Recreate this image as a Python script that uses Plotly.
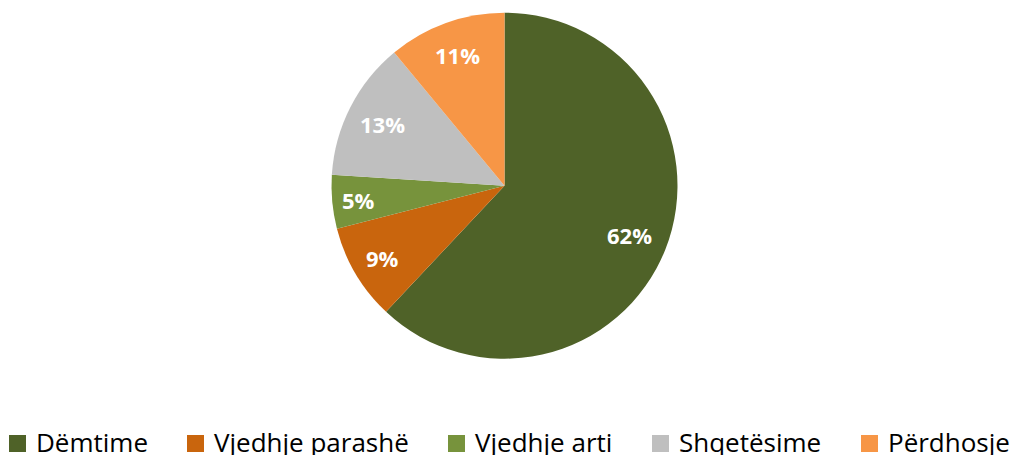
import math
import plotly.graph_objects as go

# ---- data ----
categories = ["Dëmtime", "Vjedhje parashë", "Vjedhje arti", "Shqetësime", "Përdhosje"]
values = [62, 9, 5, 13, 11]
colors = ["#4F6228", "#C9650D", "#77933C", "#BFBFBF", "#F79646"]

# ---- layout constants (pixels) ----
W, H = 1011, 455
CX, CY, R = 504.5, 185.7, 173.0
LABEL_FRAC = [0.78, 0.82, 0.85, 0.79, 0.80]
FONT = "Open Sans, Noto Sans, DejaVu Sans, sans-serif"

legend_square_x = [9, 187, 448, 652, 861]
SQ = 17
legend_sq_top = 435
legend_text_mid = 442


def px_x(x):
    return x / W


def px_y(y):
    return 1 - y / H


fig = go.Figure()
fig.add_trace(go.Pie(
    labels=categories,
    values=values,
    sort=False,
    direction="clockwise",
    rotation=0,
    marker=dict(colors=colors, line=dict(width=0)),
    textinfo="none",
    hoverinfo="label+percent",
    showlegend=False,
    domain=dict(x=[px_x(CX - R), px_x(CX + R)], y=[px_y(CY + R), px_y(CY - R)]),
))

annotations = []
shapes = []
total = sum(values)
cum = 0
for cat, v, frac in zip(categories, values, LABEL_FRAC):
    mid = (cum + v / 2) / total * 2 * math.pi
    cum += v
    x = CX + frac * R * math.sin(mid)
    y = CY - frac * R * math.cos(mid)
    annotations.append(dict(
        x=px_x(x), y=px_y(y), xref="paper", yref="paper",
        text=f"<b>{round(v / total * 100)}%</b>", showarrow=False,
        font=dict(family=FONT, size=22, color="white"),
        xanchor="center", yanchor="middle",
    ))

for cat, c, sx in zip(categories, colors, legend_square_x):
    shapes.append(dict(
        type="rect", xref="paper", yref="paper",
        x0=px_x(sx), x1=px_x(sx + SQ),
        y0=px_y(legend_sq_top + SQ), y1=px_y(legend_sq_top),
        fillcolor=c, line=dict(width=0),
    ))
    annotations.append(dict(
        x=px_x(sx + 25), y=px_y(legend_text_mid), xref="paper", yref="paper",
        text=cat, showarrow=False,
        font=dict(family=FONT, size=26, color="#000000"),
        xanchor="left", yanchor="middle",
    ))

fig.update_layout(
    width=W, height=H,
    margin=dict(l=0, r=0, t=0, b=0),
    paper_bgcolor="white", plot_bgcolor="white",
    annotations=annotations, shapes=shapes,
    font=dict(family=FONT),
)

fig.write_html(
    "out.html",
    config={"displayModeBar": False},
    post_script="document.body.style.margin='0px';document.body.style.overflow='hidden';",
)
